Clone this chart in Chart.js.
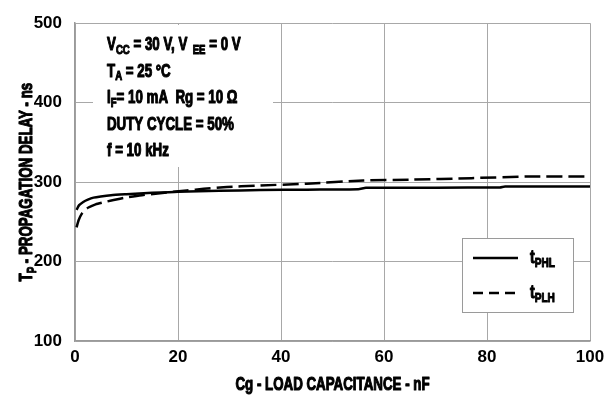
<!DOCTYPE html>
<html lang="en">
<head>
  <meta charset="UTF-8">
  <title>Propagation delay vs load capacitance</title>
  <style>
    html, body { margin:0; padding:0; background:#fff; }
    canvas { display:block; }
  </style>
</head>
<body>
  <canvas id="delayChart" width="613" height="404"></canvas>
  <script src="https://cdn.jsdelivr.net/npm/chart.js"></script>
  <script>
    // values
    const phlCap = [0.3, 0.8, 1.6, 2.5, 3.6, 5, 7, 10, 15, 20, 28, 36, 45, 55, 56.5, 70, 82.5, 83.5, 100];
    const phlDelay = [265, 271, 275, 278, 280.5, 282, 283.5, 284.7, 286.5, 288, 289, 290, 290.5, 291, 292.8, 293, 293.3, 294.5, 294.5];
    const plhCap = [0.3, 0.7, 1.3, 2, 2.6, 4, 5.5, 7.5, 10, 13, 16.5, 21.7, 25, 29.5, 35, 45, 56, 65, 77, 88, 100];
    const plhDelay = [243, 252, 260, 265, 268, 272, 274.5, 277.5, 280.6, 283.5, 286, 289.5, 291.5, 293.8, 295.5, 298, 302, 303, 305, 307, 307];
    const xTicks = [0, 20, 40, 60, 80, 100];
    const yTicks = [100, 200, 300, 400, 500];

    const FONT = '"Liberation Sans", Arial, sans-serif';
    const SX = 0.74; // squeeze to look like a condensed face
    const toPoints = (xs, ys) => xs.map((x, i) => ({x: x, y: ys[i]}));

    // draws text pieces (some as subscripts), squeezed and a bit heavier
    function richText(ctx, parts, x, y, size) {
      ctx.save();
      ctx.translate(x, y);
      ctx.scale(SX, 1);
      ctx.strokeStyle = ctx.fillStyle;
      ctx.lineWidth = 1.1;
      ctx.lineJoin = 'round';
      let cx = 0;
      parts.forEach(p => {
        const s = p.sub ? size * 0.72 : size;
        const dy = p.sub ? size * 0.2 : 0;
        ctx.font = 'bold ' + s + 'px ' + FONT;
        ctx.fillText(p.t, cx, dy);
        ctx.strokeText(p.t, cx, dy);
        cx += ctx.measureText(p.t).width;
      });
      ctx.restore();
      return cx * SX;
    }
    function richWidth(ctx, parts, size) {
      let w = 0;
      parts.forEach(p => {
        ctx.font = 'bold ' + (p.sub ? size * 0.72 : size) + 'px ' + FONT;
        w += ctx.measureText(p.t).width;
      });
      return w * SX;
    }

    const notes = [
      [{t:'V'}, {t:'CC', sub:true}, {t:' = 30 V, V'}, {t:'  EE', sub:true}, {t:' = 0 V'}],
      [{t:'T'}, {t:'A', sub:true}, {t:' = 25 °C'}],
      [{t:'I'}, {t:'F', sub:true}, {t:'= 10 mA  Rg = 10 Ω'}],
      [{t:'DUTY CYCLE = 50%'}],
      [{t:'f = 10 kHz'}]
    ];

    const extras = {
      id: 'extras',
      afterDraw(chart) {
        const ctx = chart.ctx;
        const a = chart.chartArea;
        ctx.save();
        ctx.textBaseline = 'alphabetic';

        // condition block
        ctx.fillStyle = '#fff';
        ctx.fillRect(93, 25, 180, 142);
        ctx.fillStyle = '#000';
        notes.forEach((line, i) => richText(ctx, line, 107, 50 + i * 26.5, 18));

        // legend
        ctx.fillStyle = '#fff';
        ctx.fillRect(462, 238, 111, 74);
        ctx.strokeStyle = '#9a9a9a';
        ctx.lineWidth = 1;
        ctx.strokeRect(462.5, 238.5, 111, 74);
        ctx.strokeStyle = '#000';
        ctx.lineWidth = 2.5;
        ctx.beginPath(); ctx.moveTo(473, 258); ctx.lineTo(518, 258); ctx.stroke();
        ctx.setLineDash([10, 6]);
        ctx.beginPath(); ctx.moveTo(473, 293); ctx.lineTo(518, 293); ctx.stroke();
        ctx.setLineDash([]);
        ctx.fillStyle = '#000';
        richText(ctx, [{t:'t'}, {t:'PHL', sub:true}], 530, 263, 19);
        richText(ctx, [{t:'t'}, {t:'PLH', sub:true}], 530, 298, 19);

        // x title
        const xParts = [{t:'Cg - LOAD CAPACITANCE - nF'}];
        richText(ctx, xParts, (a.left + a.right) / 2 - richWidth(ctx, xParts, 18) / 2, 390, 18);

        // y title
        const yParts = [{t:'T'}, {t:'P', sub:true}, {t:' - PROPAGATION DELAY - ns'}];
        const w = richWidth(ctx, yParts, 18);
        ctx.translate(32, (a.top + a.bottom) / 2);
        ctx.rotate(-Math.PI / 2);
        richText(ctx, yParts, -w / 2, 0, 18);
        ctx.restore();
      }
    };

    new Chart(document.getElementById('delayChart').getContext('2d'), {
      type: 'line',
      data: {
        datasets: [
          {label: 'tPHL', data: toPoints(phlCap, phlDelay), borderColor: '#000', borderWidth: 2.5,
           pointRadius: 0, tension: 0.2, fill: false},
          {label: 'tPLH', data: toPoints(plhCap, plhDelay), borderColor: '#000', borderWidth: 2.5,
           borderDash: [16, 6], pointRadius: 0, tension: 0.2, fill: false}
        ]
      },
      options: {
        responsive: false,
        animation: false,
        layout: {padding: {left: 0, top: 17, right: 23, bottom: 0}},
        plugins: {legend: {display: false}, tooltip: {enabled: false}},
        scales: {
          x: {
            type: 'linear', min: 0, max: 100,
            afterBuildTicks: s => { s.ticks = xTicks.map(v => ({value: v})); },
            afterFit: s => { s.height = 63; },
            grid: {color: '#a8a8a8', lineWidth: 1, drawTicks: false},
            border: {color: '#9a9a9a', width: 1.5},
            ticks: {color: '#000', padding: 6, font: {family: FONT, size: 17, weight: 'bold'}, maxRotation: 0}
          },
          y: {
            min: 100, max: 500,
            afterBuildTicks: s => { s.ticks = yTicks.map(v => ({value: v})); },
            afterFit: s => { s.width = 75; },
            grid: {color: '#a8a8a8', lineWidth: 1, drawTicks: false},
            border: {color: '#9a9a9a', width: 1.5},
            ticks: {color: '#000', padding: 13, font: {family: FONT, size: 17, weight: 'bold'}}
          }
        }
      },
      plugins: [extras]
    });
  </script>
</body>
</html>
